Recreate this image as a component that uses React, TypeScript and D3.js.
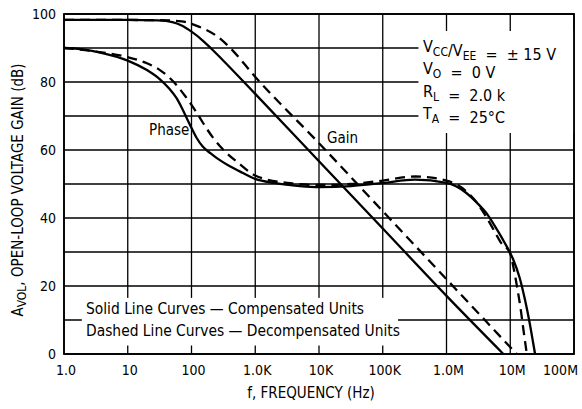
import React, { useEffect, useRef } from 'react';
import * as d3 from 'd3';

// axis ticks
const freqTicks = [1, 10, 100, 1e3, 1e4, 1e5, 1e6, 1e7, 1e8];
const freqLabels = ['1.0', '10', '100', '1.0K', '10K', '100K', '1.0M', '10M', '100M'];
const dbTicks = [0, 20, 40, 60, 80, 100];
const dbGrid = [0, 10, 20, 30, 40, 50, 60, 70, 80, 90, 100];

// [frequency Hz, value]
const gainSolid: [number, number][] = [
  [1, 98.3], [10, 98.3], [30, 98.1], [50, 97.6], [70, 96.6], [100, 94.8], [150, 92.2],
  [200, 90], [300, 86.7], [1000, 76.5], [1e4, 56.7], [1e5, 36.9], [1e6, 17.1], [7.8e6, 0],
];
const gainDashed: [number, number][] = [
  [1, 98.3], [30, 98.2], [70, 97.8], [130, 96.3], [250, 93.5], [400, 90.1], [1000, 81.5],
  [1e4, 62], [1e5, 42], [1e6, 22], [1.26e7, 0],
];
const phaseSolid: [number, number][] = [
  [1, 90], [2, 89.6], [4, 88.5], [10, 86.3], [20, 83.5], [32, 80.8], [45, 78], [58, 75.3],
  [70, 72.5], [85, 69.2], [100, 66.5], [120, 63.6], [150, 61], [200, 59], [250, 57.6],
  [400, 55.2], [630, 53.3], [1000, 51.5], [2000, 50.3], [5000, 49.4], [10000, 49.1],
  [32000, 49.4], [1e5, 50.3], [3.2e5, 51.3], [1e6, 50.3], [2e6, 47.5], [3e6, 44.5],
  [4.4e6, 41], [6e6, 37], [8e6, 33], [1.1e7, 28], [1.4e7, 22.5], [1.7e7, 16], [2e7, 9.5],
  [2.3e7, 3], [2.45e7, 0],
];
const phaseDashed: [number, number][] = [
  [1, 90], [3, 89], [10, 87.3], [20, 85.5], [32, 83.5], [45, 81.3], [60, 78.8], [80, 75.8],
  [100, 73.3], [130, 70], [170, 66.5], [220, 63.5], [300, 60.5], [560, 56], [1000, 52.5],
  [3200, 50.3], [10000, 49.7], [32000, 50], [1e5, 51], [3.2e5, 52.2], [1e6, 51],
  [2e6, 48], [3e6, 44.5], [4e6, 41], [5.5e6, 36.5], [7e6, 33], [1e7, 29.5], [1.15e7, 24.5],
  [1.3e7, 19], [1.45e7, 13.5], [1.6e7, 7.5], [1.82e7, 0],
];

const FONT = "'Liberation Sans Narrow', 'DejaVu Sans Condensed', 'Arial Narrow', sans-serif";

export default function App() {
  const ref = useRef<SVGSVGElement>(null);

  useEffect(() => {
    const svg = d3.select(ref.current);
    svg.selectAll('*').remove();

    const margin = { top: 14, right: 8, bottom: 55, left: 64 };
    const width = 582 - margin.left - margin.right;
    const height = 409 - margin.top - margin.bottom;

    const x = d3.scaleLog().domain([1, 1e8]).range([0, width]);
    const y = d3.scaleLinear().domain([0, 100]).range([height, 0]);

    const g = svg
      .append('g')
      .attr('transform', `translate(${margin.left},${margin.top})`)
      .attr('font-family', FONT)
      .attr('fill', '#000');

    // grid
    const grid = g.append('g').attr('stroke', '#000').attr('stroke-width', 1.3);
    grid
      .selectAll('line.h')
      .data(dbGrid)
      .join('line')
      .attr('x1', 0)
      .attr('x2', width)
      .attr('y1', (d) => y(d))
      .attr('y2', (d) => y(d));
    grid
      .selectAll('line.v')
      .data(freqTicks)
      .join('line')
      .attr('x1', (d) => x(d))
      .attr('x2', (d) => x(d))
      .attr('y1', 0)
      .attr('y2', height);

    // white patches behind the notes
    g.append('rect')
      .attr('x', x(10 ** 5.56))
      .attr('y', y(95))
      .attr('width', width - x(10 ** 5.56))
      .attr('height', y(65) - y(95))
      .attr('fill', '#fff');
    g.append('rect')
      .attr('x', x(10 ** 0.28))
      .attr('y', y(16.5))
      .attr('width', x(10 ** 5.24) - x(10 ** 0.28))
      .attr('height', y(2.5) - y(16.5))
      .attr('fill', '#fff');

    // frame
    g.append('rect')
      .attr('width', width)
      .attr('height', height)
      .attr('fill', 'none')
      .attr('stroke', '#000')
      .attr('stroke-width', 1.8);

    // curves
    const line = d3
      .line<[number, number]>()
      .x((d) => x(d[0]))
      .y((d) => y(d[1]))
      .curve(d3.curveMonotoneX);

    const curves = [
      { data: gainSolid, dash: null },
      { data: phaseSolid, dash: null },
      { data: gainDashed, dash: '10,6' },
      { data: phaseDashed, dash: '10,6' },
    ];
    g.append('g')
      .attr('fill', 'none')
      .attr('stroke', '#000')
      .attr('stroke-width', 2.3)
      .selectAll('path')
      .data(curves)
      .join('path')
      .attr('d', (d) => line(d.data))
      .attr('stroke-dasharray', (d) => d.dash);

    // y tick labels
    g.append('g')
      .selectAll('text')
      .data(dbTicks)
      .join('text')
      .attr('x', -8)
      .attr('y', (d) => y(d))
      .attr('dy', '0.36em')
      .attr('text-anchor', 'end')
      .attr('font-size', 14)
      .text((d) => d);

    // x tick labels
    g.append('g')
      .selectAll('text')
      .data(freqTicks)
      .join('text')
      .attr('x', (d, i) => (i === freqTicks.length - 1 ? x(d) + 4 : x(d) + 2))
      .attr('y', height + 21)
      .attr('text-anchor', (d, i) => (i === freqTicks.length - 1 ? 'end' : 'middle'))
      .attr('font-size', 14)
      .text((d, i) => freqLabels[i]);

    g.append('text')
      .attr('x', width / 2 - 8)
      .attr('y', height + 44)
      .attr('text-anchor', 'middle')
      .attr('font-size', 15)
      .text('f, FREQUENCY (Hz)');

    // y title
    const yt = g
      .append('text')
      .attr('transform', `translate(${-41},${height / 2 + 6}) rotate(-90)`)
      .attr('text-anchor', 'middle')
      .attr('font-size', 15);
    yt.append('tspan').text('A');
    yt.append('tspan').attr('font-size', 12).attr('dy', 3).text('VOL');
    yt.append('tspan').attr('dy', -3).text(', OPEN-LOOP VOLTAGE GAIN (dB)');

    // curve labels
    g.append('text').attr('x', 85).attr('y', 121).attr('font-size', 15).text('Phase');
    g.append('text').attr('x', 263).attr('y', 129).attr('font-size', 15).text('Gain');

    // conditions
    const notes = [
      [['V', 'CC'], ['/V', 'EE'], ['  =  \u00b1 15 V', '']],
      [['V', 'O'], ['  =  0 V', '']],
      [['R', 'L'], ['  =  2.0 k', '']],
      [['T', 'A'], ['  =  25\u00b0C', '']],
    ];
    notes.forEach((parts, i) => {
      const t = g
        .append('text')
        .attr('x', 359)
        .attr('y', 38 + i * 22.3)
        .attr('font-size', 16)
        .style('white-space', 'pre');
      parts.forEach(([main, sub]) => {
        t.append('tspan').text(main);
        if (sub) {
          t.append('tspan').attr('font-size', 12).attr('dy', 4).text(sub);
          t.append('tspan').attr('dy', -4).text('');
        }
      });
    });

    // legend
    ['Solid Line Curves \u2014 Compensated Units', 'Dashed Line Curves \u2014 Decompensated Units'].forEach(
      (s, i) => {
        g.append('text')
          .attr('x', 22)
          .attr('y', 300 + i * 22)
          .attr('font-size', 15.4)
          .text(s);
      }
    );
  }, []);

  return (
    <svg
      ref={ref}
      width={582}
      height={409}
      style={{ position: 'absolute', left: 0, top: 0, background: '#fff' }}
    />
  );
}
